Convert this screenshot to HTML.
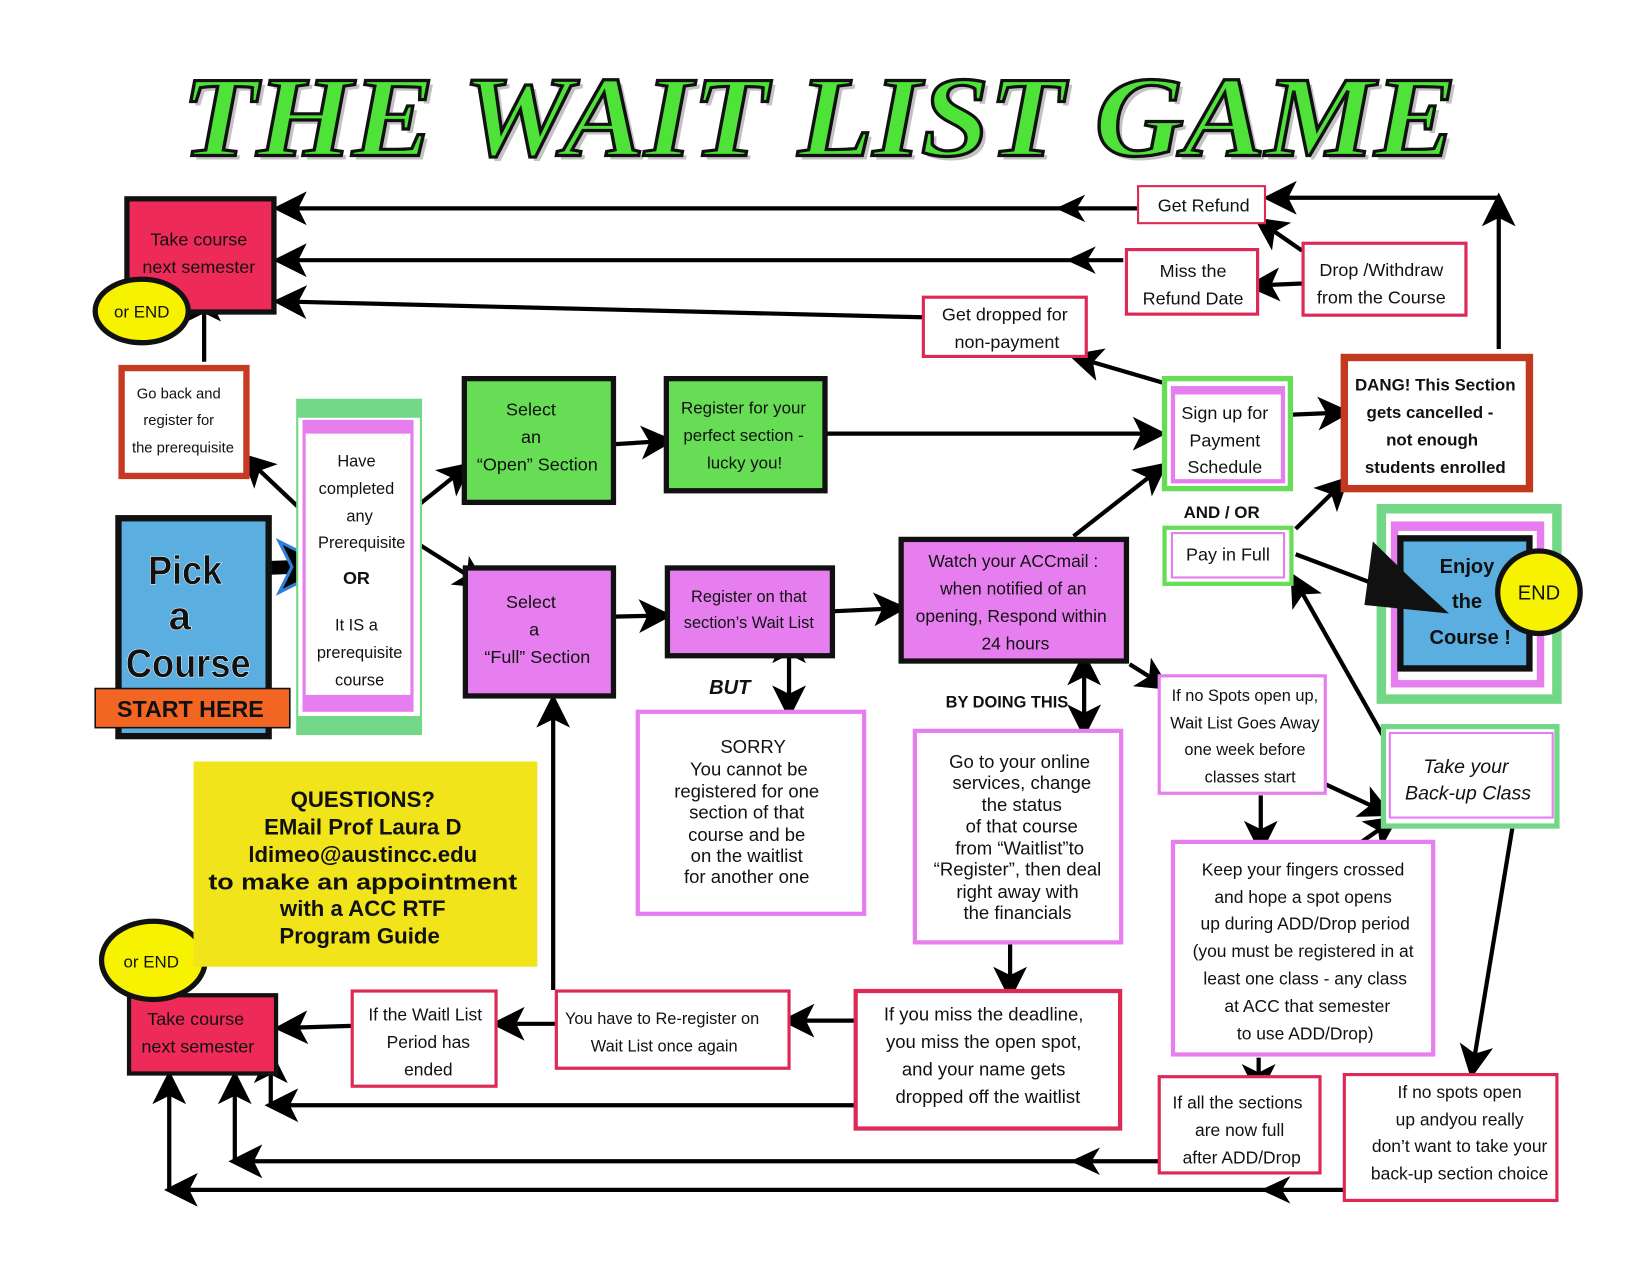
<!DOCTYPE html>
<html><head><meta charset="utf-8"><style>
html,body{margin:0;padding:0;background:#fff;}
svg{display:block;}
.n{font-family:"Liberation Sans",sans-serif;fill:#111;text-anchor:middle;}
.a{font-family:"Liberation Sans",sans-serif;fill:#111;text-anchor:middle;}
.ln{stroke:#000;stroke-width:4;fill:none;}
</style></head><body>
<svg width="1650" height="1275" viewBox="0 0 1560 1205.5" preserveAspectRatio="none" xmlns="http://www.w3.org/2000/svg" font-size="16.5">
<defs>
<marker id="ah" markerWidth="8" markerHeight="8" refX="6" refY="4" orient="auto" markerUnits="strokeWidth">
<path d="M0,0 L8,4 L0,8 L2,4 Z" fill="#000"/></marker>
<marker id="ahs" markerWidth="8" markerHeight="8" refX="6" refY="4" orient="auto-start-reverse" markerUnits="strokeWidth">
<path d="M0,0 L8,4 L0,8 L2,4 Z" fill="#000"/></marker>
</defs>

<!-- title -->
<text x="176" y="151" font-family="Liberation Serif" font-weight="bold" font-style="italic" font-size="108" fill="#555" opacity="0.35" textLength="1205" lengthAdjust="spacingAndGlyphs">THE WAIT LIST GAME</text>
<text x="172" y="147" font-family="Liberation Serif" font-weight="bold" font-style="italic" font-size="108" fill="#4fe33a" stroke="#111" stroke-width="3" textLength="1205" lengthAdjust="spacingAndGlyphs">THE WAIT LIST GAME</text>

<!-- arrows -->
<g class="ln" marker-end="url(#ah)">
<line x1="1075" y1="197" x2="266" y2="197"/>
<line x1="1062" y1="246" x2="266" y2="246"/>
<line x1="873" y1="300" x2="266" y2="285"/>
<line x1="1417" y1="330" x2="1417" y2="190"/>
<line x1="1417" y1="187" x2="1202" y2="187"/>
<line x1="1231" y1="237" x2="1192" y2="210"/>
<line x1="1231" y1="268" x2="1186" y2="270"/>
<line x1="1100" y1="362" x2="1018" y2="338"/>
<line x1="780" y1="410" x2="1095" y2="410"/>
<line x1="580" y1="420" x2="630" y2="417"/>
<line x1="1222" y1="392" x2="1270" y2="390"/>
<line x1="1015" y1="507" x2="1098" y2="442"/>
<line x1="1225" y1="500" x2="1270" y2="456"/>
<line x1="1310" y1="700" x2="1224" y2="548"/>
<line x1="1068" y1="628" x2="1100" y2="648"/>
<line x1="1250" y1="740" x2="1310" y2="768"/>
<line x1="1192" y1="752" x2="1192" y2="800"/>
<line x1="1270" y1="808" x2="1316" y2="776"/>
<line x1="1190" y1="1000" x2="1190" y2="1030"/>
<line x1="1430" y1="782" x2="1392" y2="1012"/>
<line x1="580" y1="583" x2="628" y2="582"/>
<line x1="787" y1="578" x2="850" y2="575"/>
<line x1="955" y1="892" x2="955" y2="938"/>
<line x1="808" y1="965" x2="746" y2="965"/>
<line x1="525" y1="968" x2="472" y2="968"/>
<line x1="523" y1="936" x2="523" y2="664"/>
<line x1="332" y1="970" x2="267" y2="972"/>
<line x1="808" y1="1045" x2="258" y2="1045"/>
<line x1="256" y1="1045" x2="256" y2="1000"/>
<line x1="1095" y1="1098" x2="224" y2="1098"/>
<line x1="222" y1="1098" x2="222" y2="1020"/>
<line x1="1270" y1="1125" x2="163" y2="1125"/>
<line x1="160" y1="1125" x2="160" y2="1020"/>
<line x1="193" y1="342" x2="193" y2="280"/>
<line x1="290" y1="487" x2="234" y2="434"/>
<line x1="380" y1="490" x2="440" y2="442"/>
<line x1="395" y1="514" x2="455" y2="552"/>
<line x1="1225" y1="524" x2="1352" y2="572"/>
</g>
<g class="ln" marker-start="url(#ahs)" marker-end="url(#ah)">
<line x1="1025" y1="624" x2="1025" y2="690"/>
<line x1="746" y1="603" x2="746" y2="672"/>
</g>
<g fill="#000">
<path d="M998,197 L1026,184 L1018,197 L1026,210 Z"/>
<path d="M1008,246 L1036,233 L1028,246 L1036,259 Z"/>
<path d="M1012,1098 L1040,1085 L1032,1098 L1040,1111 Z"/>
<path d="M1192,1125 L1220,1112 L1212,1125 L1220,1138 Z"/>
</g>
<!-- Pick arrow -->
<line x1="225" y1="538" x2="280" y2="536" stroke="#000" stroke-width="13"/>
<path d="M264,512 L312,536 L264,560 L276,536 Z" fill="#000" stroke="#2f7fd8" stroke-width="3"/>

<!-- Take course top -->
<rect x="120" y="188" width="139" height="107" fill="#ee2a58" stroke="#111" stroke-width="5"/>
<text class="n" x="188" y="232" font-size="17">Take course</text>
<text class="n" x="188" y="258" font-size="17">next semester</text>
<ellipse cx="134" cy="294" rx="44" ry="30" fill="#f7f200" stroke="#111" stroke-width="5"/>
<text class="a" x="134" y="300" font-size="16">or END</text>

<!-- Go back -->
<rect x="115" y="348" width="118" height="102" fill="#fff" stroke="#c63a22" stroke-width="6"/>
<text class="n" x="169" y="377" font-size="14">Go back and</text>
<text class="n" x="169" y="402" font-size="14">register for</text>
<text class="n" x="173" y="428" font-size="14">the prerequisite</text>

<!-- prereq col -->
<rect x="280" y="377" width="119" height="318" fill="#72d888"/>
<rect x="282" y="395" width="115" height="282" fill="#fff"/>
<rect x="286" y="397" width="105" height="276" fill="#e77ef0"/>
<rect x="289" y="410" width="99" height="247" fill="#fff"/>
<g class="n" font-size="15.5">
<text x="337" y="441">Have</text>
<text x="337" y="467">completed</text>
<text x="340" y="493">any</text>
<text x="342" y="518">Prerequisite</text>
<text x="337" y="552" font-weight="bold" font-size="17">OR</text>
<text x="337" y="596">It IS a</text>
<text x="340" y="622">prerequisite</text>
<text x="340" y="648">course</text></g>

<!-- Pick a course -->
<rect x="112" y="490" width="142" height="206" fill="#5aafe0" stroke="#111" stroke-width="6"/>
<g class="n" font-size="38" font-weight="bold" stroke="#fff" stroke-width="0.5">
<text x="175" y="552" textLength="70" lengthAdjust="spacingAndGlyphs">Pick</text>
<text x="170" y="595">a</text>
<text x="178" y="640" textLength="118" lengthAdjust="spacingAndGlyphs">Course</text></g>
<rect x="90" y="651" width="184" height="37" fill="#f26522" stroke="#111" stroke-width="1.5"/>
<text x="180" y="678" font-family="Liberation Sans" font-weight="bold" font-size="22" text-anchor="middle" fill="#111">START HERE</text>

<!-- green selects -->
<rect x="439" y="358" width="141" height="117" fill="#66dd55" stroke="#111" stroke-width="5"/>
<g class="n" font-size="17">
<text x="502" y="393">Select</text>
<text x="502" y="419">an</text>
<text x="508" y="445">“Open” Section</text></g>
<rect x="630" y="358" width="150" height="106" fill="#66dd55" stroke="#111" stroke-width="5"/>
<g class="n" font-size="16">
<text x="703" y="391">Register for your</text>
<text x="703" y="417">perfect section -</text>
<text x="704" y="443">lucky you!</text></g>

<!-- pink -->
<rect x="440" y="537" width="140" height="121" fill="#e77ef0" stroke="#111" stroke-width="5"/>
<g class="n" font-size="17">
<text x="502" y="575">Select</text>
<text x="505" y="601">a</text>
<text x="508" y="627">“Full” Section</text></g>
<rect x="631" y="537" width="156" height="83" fill="#e77ef0" stroke="#111" stroke-width="5"/>
<g class="n" font-size="15.5">
<text x="708" y="569">Register on that</text>
<text x="708" y="594">section’s Wait List</text></g>
<rect x="852" y="510" width="213" height="115" fill="#e77ef0" stroke="#111" stroke-width="5"/>
<g class="n" font-size="16.5">
<text x="958" y="536">Watch your ACCmail :</text>
<text x="958" y="562">when notified of an</text>
<text x="956" y="588">opening, Respond within</text>
<text x="960" y="614">24 hours</text></g>

<text x="690" y="656" font-family="Liberation Sans" font-weight="bold" font-style="italic" font-size="19" text-anchor="middle" fill="#111">BUT</text>
<text x="952" y="669" font-family="Liberation Sans" font-weight="bold" font-size="15.5" text-anchor="middle" fill="#111">BY DOING THIS</text>

<!-- SORRY -->
<rect x="603" y="673" width="214" height="191" fill="#fff" stroke="#e77ef0" stroke-width="4"/>
<g class="a" font-size="17.5"><text x="712" y="712">SORRY</text><text x="708" y="733">You cannot be</text><text x="706" y="754">registered for one</text><text x="706" y="774">section of that</text><text x="706" y="795">course and be</text><text x="706" y="815">on the waitlist</text><text x="706" y="835">for another one</text></g>

<!-- Go to online -->
<rect x="865" y="691" width="195" height="200" fill="#fff" stroke="#e77ef0" stroke-width="4"/>
<g class="a" font-size="17.5"><text x="964" y="726">Go to your  online</text><text x="966" y="746">services, change</text><text x="966" y="767">the status</text><text x="966" y="787">of that course</text><text x="964" y="808">from “Waitlist”to</text><text x="962" y="828">“Register”, then deal</text><text x="962" y="849">right away with</text><text x="962" y="869">the financials</text></g>

<!-- payment side -->
<rect x="1101" y="358" width="119" height="104" fill="#fff" stroke="#66dd55" stroke-width="5"/>
<rect x="1109" y="367" width="104" height="88" fill="#fff" stroke="#e77ef0" stroke-width="4"/>
<rect x="1109" y="367" width="104" height="6" fill="#e77ef0"/>
<g class="n" font-size="17">
<text x="1158" y="396">Sign up for</text>
<text x="1158" y="422">Payment</text>
<text x="1158" y="447">Schedule</text></g>
<text x="1155" y="490" font-family="Liberation Sans" font-weight="bold" font-size="16" text-anchor="middle" fill="#111">AND / OR</text>
<rect x="1101" y="499" width="120" height="53" fill="#fff" stroke="#66dd55" stroke-width="4"/>
<rect x="1108" y="504" width="106" height="42" fill="#fff" stroke="#e77ef0" stroke-width="2"/>
<text class="n" x="1161" y="530" font-size="17">Pay in Full</text>

<rect x="1271" y="338" width="175" height="124" fill="#fff" stroke="#c3391f" stroke-width="7"/>
<g class="n" font-weight="bold" font-size="16"><text x="1357" y="369">DANG! This Section</text><text x="1352" y="395">gets cancelled -</text><text x="1354" y="421">not enough</text><text x="1357" y="447">students enrolled</text></g>

<!-- enjoy -->
<rect x="1306" y="481" width="166" height="180" fill="#fff" stroke="#72d888" stroke-width="9"/>
<rect x="1315" y="493" width="145" height="157" fill="#e77ef0"/>
<rect x="1322" y="502" width="131" height="141" fill="#fff"/>
<rect x="1324" y="509" width="122" height="123" fill="#5aafe0" stroke="#111" stroke-width="6"/>
<g class="n" font-weight="bold" font-size="19"><text x="1387" y="542">Enjoy</text><text x="1387" y="575">the</text><text x="1390" y="609">Course !</text></g>
<path d="M1298,512 L1335,548 L1370,580 L1290,572 Z" fill="#111"/>
<circle cx="1455" cy="560" r="39" fill="#f7f200" stroke="#111" stroke-width="5"/>
<text class="a" x="1455" y="567" font-size="19">END</text>

<!-- refund boxes -->
<rect x="1076" y="176" width="120" height="35" fill="#fff" stroke="#dc2a55" stroke-width="2"/>
<text class="n" x="1138" y="200" font-size="17">Get Refund</text>
<rect x="1065" y="236" width="124" height="61" fill="#fff" stroke="#dc2a55" stroke-width="3"/>
<g class="n" font-size="17">
<text x="1128" y="262">Miss the</text>
<text x="1128" y="288">Refund Date</text></g>
<rect x="1232" y="230" width="154" height="68" fill="#fff" stroke="#dc2a55" stroke-width="3"/>
<g class="n" font-size="17">
<text x="1306" y="261">Drop /Withdraw</text>
<text x="1306" y="287">from the Course</text></g>
<rect x="873" y="281" width="154" height="56" fill="#fff" stroke="#dc2a55" stroke-width="3"/>
<g class="n" font-size="17">
<text x="950" y="303">Get dropped for</text>
<text x="952" y="329">non-payment</text></g>

<!-- if no spots -->
<rect x="1096" y="639" width="157" height="111" fill="#fff" stroke="#e77ef0" stroke-width="3"/>
<g class="n" font-size="15.5"><text x="1177" y="663">If no Spots open up,</text><text x="1177" y="689">Wait List Goes Away</text><text x="1177" y="714">one week before</text><text x="1182" y="740">classes start</text></g>
<rect x="1308" y="687" width="164" height="94" fill="#fff" stroke="#72d888" stroke-width="5"/>
<rect x="1314" y="693" width="154" height="80" fill="#fff" stroke="#e77ef0" stroke-width="2"/>
<g class="n" font-style="italic" font-size="18.5">
<text x="1386" y="731">Take your</text>
<text x="1388" y="756">Back-up Class</text></g>

<rect x="1109" y="796" width="246" height="201" fill="#fff" stroke="#e77ef0" stroke-width="4"/>
<g class="n" font-size="16.5"><text x="1232" y="828">Keep your fingers crossed</text><text x="1232" y="854">and hope a spot opens</text><text x="1234" y="879">up during ADD/Drop period</text><text x="1232" y="905">(you must be registered in at</text><text x="1234" y="931">least one class - any class</text><text x="1236" y="957">at ACC that semester</text><text x="1234" y="983">to use ADD/Drop)</text></g>

<rect x="1096" y="1018" width="152" height="91" fill="#fff" stroke="#dc2a55" stroke-width="3"/>
<g class="n" font-size="16.5"><text x="1170" y="1048">If all the sections</text><text x="1172" y="1074">are now full</text><text x="1174" y="1100">after ADD/Drop</text></g>
<rect x="1271" y="1016" width="201" height="119" fill="#fff" stroke="#dc2a55" stroke-width="3"/>
<g class="n" font-size="16.5"><text x="1380" y="1038">If no spots open</text><text x="1380" y="1064">up andyou really</text><text x="1380" y="1089">don’t want to take your</text><text x="1380" y="1115">back-up section choice</text></g>

<!-- bottom row -->
<rect x="809" y="937" width="250" height="130" fill="#fff" stroke="#dc2a55" stroke-width="4"/>
<g class="n" font-size="17.5"><text x="930" y="965">If you miss the deadline,</text><text x="930" y="991">you miss the open spot,</text><text x="930" y="1017">and your name gets</text><text x="934" y="1043">dropped off the waitlist</text></g>
<rect x="526" y="937" width="220" height="73" fill="#fff" stroke="#dc2a55" stroke-width="3"/>
<g class="n" font-size="15.5">
<text x="626" y="968">You have to Re-register on</text>
<text x="628" y="994">Wait List once again</text></g>
<rect x="333" y="937" width="136" height="90" fill="#fff" stroke="#dc2a55" stroke-width="3"/>
<g class="n" font-size="16.5"><text x="402" y="965">If the Waitl List</text><text x="405" y="991">Period  has</text><text x="405" y="1017">ended</text></g>

<rect x="122" y="941" width="139" height="74" fill="#ee2a58" stroke="#111" stroke-width="4"/>
<g class="n" font-size="17">
<text x="185" y="969">Take course</text>
<text x="187" y="995">next semester</text></g>
<ellipse cx="145" cy="908" rx="49" ry="37" fill="#f7f200" stroke="#111" stroke-width="5"/>
<text class="a" x="143" y="915" font-size="16">or END</text>

<!-- questions -->
<rect x="183" y="720" width="325" height="194" fill="#f2e41a"/>
<g font-family="Liberation Sans" font-weight="bold" font-size="21" text-anchor="middle" fill="#111">
<text x="343" y="763">QUESTIONS?</text><text x="343" y="789">EMail Prof Laura D</text><text x="343" y="815">ldimeo@austincc.edu</text><text x="343" y="841" textLength="292" lengthAdjust="spacingAndGlyphs">to make an appointment</text><text x="343" y="866">with a ACC RTF</text><text x="340" y="892">Program Guide</text></g>
</svg>
</body></html>
